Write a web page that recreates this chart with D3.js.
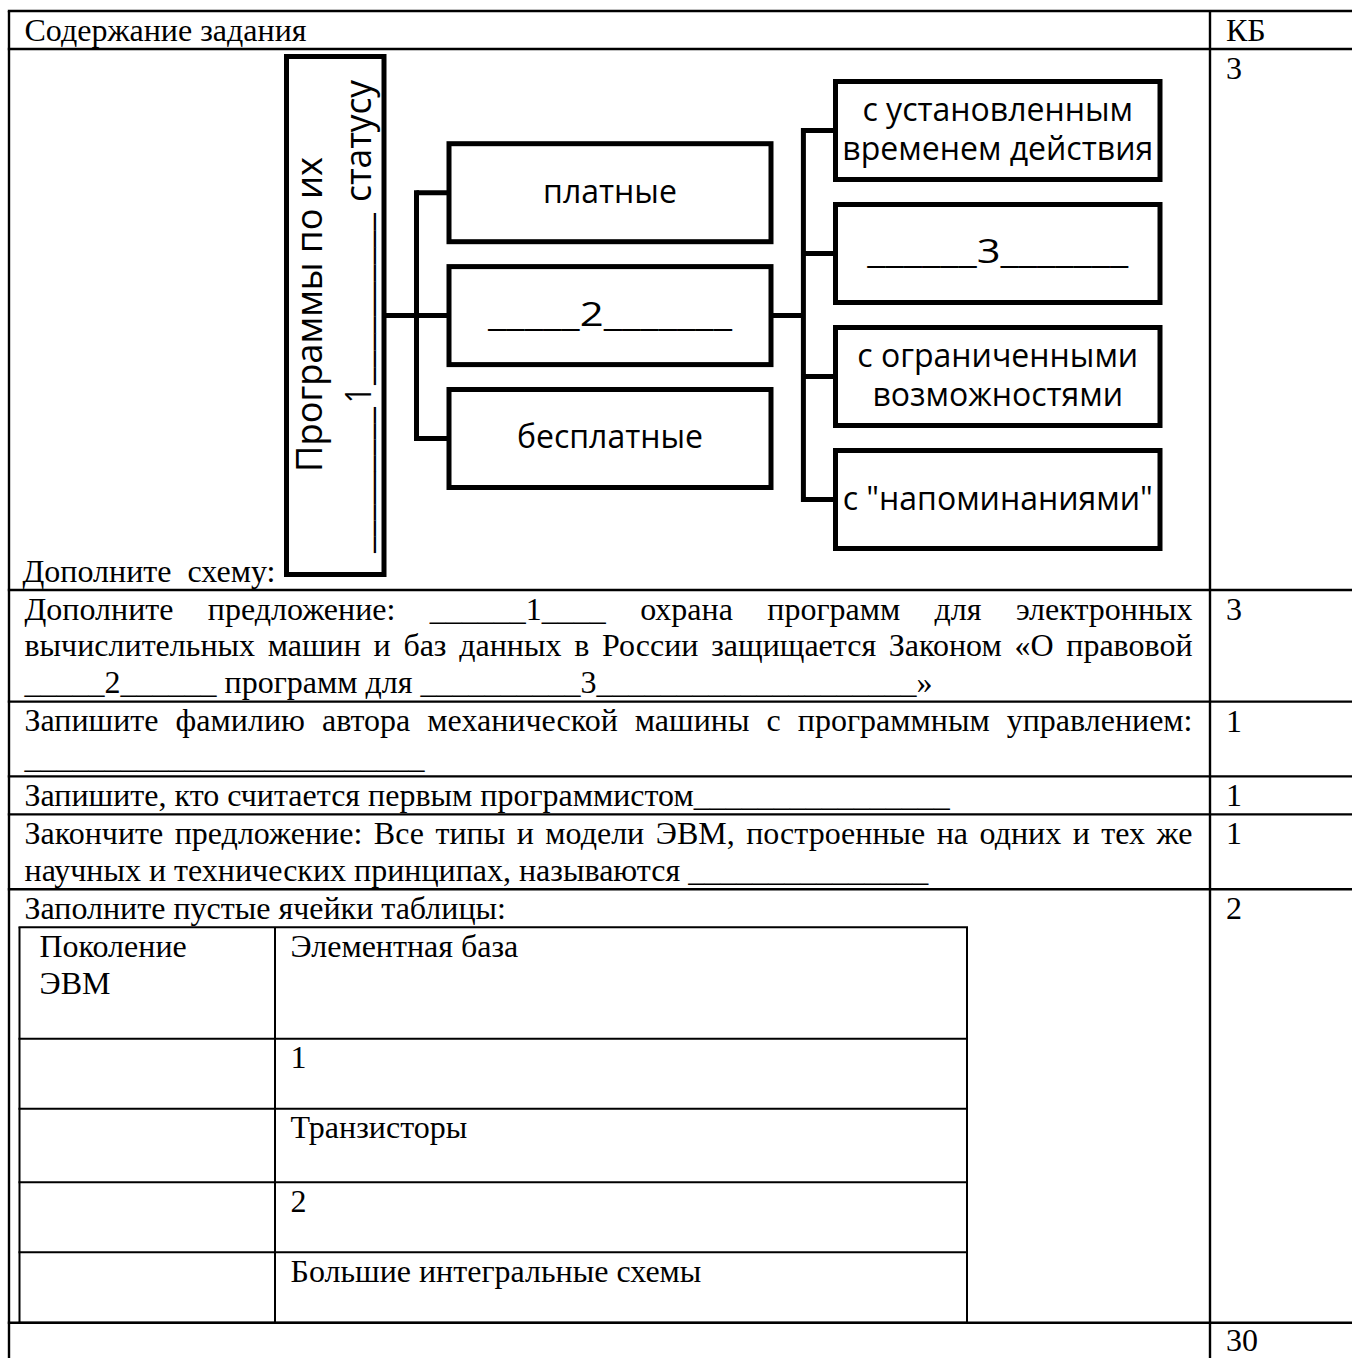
<!DOCTYPE html>
<html><head><meta charset="utf-8">
<script src="https://cdn.jsdelivr.net/npm/d3@7/dist/d3.min.js"></script>
<style>
html,body{margin:0;padding:0;background:#fff;}
svg{display:block;}
.serif{font-family:"Liberation Serif","Times New Roman",serif;font-size:32px;fill:#000;white-space:pre;}
.sans{font-family:"Open Sans","Noto Sans",sans-serif;fill:#000;white-space:pre;}
</style></head><body>
<svg id="c" width="1352" height="1358"></svg>
<script>
// ---------- data ----------
const headerLabels = ["Содержание задания", "КБ"];
const scores = ["3", "3", "1", "1", "1", "2", "30"];
const schemeCaption = "Дополните  схему:";
const rootLine1 = "Программы по их";
const rootLine2 = ["_________", "1", "__________", "статусу"];
const levelOne = [["платные"], ["_____2_______"], ["бесплатные"]];
const levelTwo = [["с установленным", "временем действия"], ["______3_______"], ["с ограниченными", "возможностями"], ["с \"напоминаниями\""]];
const task2 = [
  ["Дополните предложение: ______1____ охрана программ для электронных", true],
  ["вычислительных машин и баз данных в России защищается Законом «О правовой", true],
  ["_____2______ программ для __________3____________________»", false]
];
const task3 = [
  ["Запишите фамилию автора механической машины с программным управлением:", true],
  ["_________________________", false]
];
const task4 = [["Запишите, кто считается первым программистом________________", false]];
const task5 = [
  ["Закончите предложение: Все типы и модели ЭВМ, построенные на одних и тех же", true],
  ["научных и технических принципах, называются _______________", false]
];
const task6 = [["Заполните пустые ячейки таблицы:", false]];
const genHeader = [["Поколение", "ЭВМ"], ["Элементная база"]];
const genBase = ["1", "Транзисторы", "2", "Большие интегральные схемы"];

// ---------- layout ----------
const LH = 36.8, RB = 1.2, BASE = 29.5;
const tableLeft = 9, colDiv = 1210, tableRight = 1360, tableTop = 11;
const textLeft = 24.5, textRight = 1192.5, scoreX = 1226;
const diagramRowH = 541;
const innerLeft = 19.5, innerDiv = 275, innerRight = 967, innerPad = 15.5;
const innerRowH = [111.6, 70, 73.4, 70, 70.6];
const blankLineLen = {"_____2_______": 244, "______3_______": 261};

const svg = d3.select("#c");
const lineY = d3.scaleLinear().domain([0, 1]).range([0, LH]);

function drawLine(g, text, x0, x1, y, justify) {
  if (!justify) {
    g.append("text").attr("class", "serif").attr("x", x0).attr("y", y).text(text);
    return;
  }
  const words = text.split(" ");
  const nodes = words.map(w => g.append("text").attr("class", "serif").attr("y", y).text(w));
  const widths = nodes.map(n => n.node().getComputedTextLength());
  const gap = (x1 - x0 - d3.sum(widths)) / (words.length - 1);
  let x = x0;
  nodes.forEach((n, i) => { n.attr("x", x); x += widths[i] + gap; });
}

// rows
const textRows = [task2, task3, task4, task5];
const rowTops = [tableTop];
rowTops.push(tableTop + lineY(1) + RB);
rowTops.push(rowTops[1] + diagramRowH);
textRows.forEach(r => rowTops.push(rowTops[rowTops.length - 1] + lineY(r.length) + RB));
const row6Top = rowTops[rowTops.length - 1];
const innerTop = row6Top + lineY(1) + RB;
const innerBounds = [innerTop];
innerRowH.forEach(h => innerBounds.push(innerBounds[innerBounds.length - 1] + h));
const row7Top = innerBounds[innerBounds.length - 1];
rowTops.push(row7Top);

const gText = svg.append("g");
gText.append("text").attr("class", "serif").attr("x", textLeft).attr("y", tableTop + BASE).text(headerLabels[0]);
gText.append("text").attr("class", "serif").attr("x", scoreX).attr("y", tableTop + BASE).text(headerLabels[1]);

const scoreRowTops = rowTops.slice(1, 7).concat([row7Top]);
scores.forEach((s, i) => {
  const y = Math.min(scoreRowTops[i] + BASE + 0.5, 1351);
  gText.append("text").attr("class", "serif").attr("x", scoreX).attr("y", y).text(s);
});

gText.append("text").attr("class", "serif").attr("x", textLeft - 2).attr("y", rowTops[2] - 8).text(schemeCaption);

textRows.forEach((rows, ri) => {
  const top = rowTops[2 + ri];
  rows.forEach((ln, li) => drawLine(gText, ln[0], textLeft, textRight, top + BASE + lineY(li), ln[1]));
});
task6.forEach((ln, li) => drawLine(gText, ln[0], textLeft, textRight, row6Top + BASE + lineY(li), ln[1]));

genHeader.forEach((cell, ci) => {
  const x = (ci === 0 ? innerLeft + 4.5 : innerDiv) + innerPad;
  cell.forEach((t, li) => gText.append("text").attr("class", "serif").attr("x", x).attr("y", innerBounds[0] + BASE + lineY(li)).text(t));
});
genBase.forEach((t, i) => {
  gText.append("text").attr("class", "serif").attr("x", innerDiv + innerPad).attr("y", innerBounds[i + 1] + BASE).text(t);
});

const gLines = svg.append("g").attr("stroke", "#000").attr("stroke-width", 2.4).attr("fill", "none");
rowTops.forEach(y => gLines.append("line").attr("x1", tableLeft - 1.2).attr("x2", tableRight).attr("y1", y).attr("y2", y));
gLines.append("line").attr("x1", tableLeft).attr("x2", tableLeft).attr("y1", tableTop).attr("y2", 1360);
gLines.append("line").attr("x1", colDiv).attr("x2", colDiv).attr("y1", tableTop).attr("y2", 1360);
const gInner = svg.append("g").attr("stroke", "#000").attr("stroke-width", 2).attr("fill", "none");
innerBounds.forEach(y => gInner.append("line").attr("x1", innerLeft - 1).attr("x2", innerRight + 1).attr("y1", y).attr("y2", y));
[innerLeft, innerDiv, innerRight].forEach(x => gInner.append("line").attr("x1", x).attr("x2", x).attr("y1", innerBounds[0]).attr("y2", row7Top));

// ---------- diagram ----------
const root = {x0: 286.5, x1: 384, y0: 56.5, y1: 574.5};
const oneX = [449, 771], twoX = [835.5, 1160];
const yOne = d3.scaleBand().domain(d3.range(levelOne.length)).range([143.7, 487.5]).paddingInner(0.2026);
const yTwo = d3.scaleBand().domain(d3.range(levelTwo.length)).range([81.5, 548.5]).paddingInner(0.2033);
const conn1X = 416.5, conn2X = 803.4;
const gD = svg.append("g").attr("stroke", "#000").attr("stroke-width", 5).attr("fill", "none");
gD.append("rect").attr("x", root.x0).attr("y", root.y0).attr("width", root.x1 - root.x0).attr("height", root.y1 - root.y0);
levelOne.forEach((d, i) => gD.append("rect").attr("x", oneX[0]).attr("y", yOne(i)).attr("width", oneX[1] - oneX[0]).attr("height", yOne.bandwidth()));
levelTwo.forEach((d, i) => gD.append("rect").attr("x", twoX[0]).attr("y", yTwo(i)).attr("width", twoX[1] - twoX[0]).attr("height", yTwo.bandwidth()));
const c1 = i => yOne(i) + yOne.bandwidth() / 2;
const c2 = i => yTwo(i) + yTwo.bandwidth() / 2;
gD.append("line").attr("x1", root.x1).attr("x2", oneX[0]).attr("y1", c1(1)).attr("y2", c1(1));
gD.append("line").attr("x1", conn1X).attr("x2", conn1X).attr("y1", c1(0) - 2.5).attr("y2", c1(2) + 2.5);
[0, 2].forEach(i => gD.append("line").attr("x1", conn1X).attr("x2", oneX[0]).attr("y1", c1(i)).attr("y2", c1(i)));
gD.append("line").attr("x1", oneX[1]).attr("x2", conn2X).attr("y1", c1(1)).attr("y2", c1(1));
gD.append("line").attr("x1", conn2X).attr("x2", conn2X).attr("y1", c2(0) - 2.5).attr("y2", c2(levelTwo.length - 1) + 2.5);
levelTwo.forEach((d, i) => gD.append("line").attr("x1", conn2X).attr("x2", twoX[0]).attr("y1", c2(i)).attr("y2", c2(i)));

const gDT = svg.append("g");
const boxFS = 32, boxLH = 39.5;
function boxText(lines, cx, cy) {
  lines.forEach((t, li) => {
    const el = gDT.append("text").attr("class", "sans").attr("font-size", boxFS)
      .attr("text-anchor", "middle").attr("x", cx)
      .attr("y", cy + 10 + (li - (lines.length - 1) / 2) * boxLH).text(t);
    if (blankLineLen[t]) el.attr("textLength", blankLineLen[t]).attr("lengthAdjust", "spacingAndGlyphs");
  });
}
levelOne.forEach((d, i) => boxText(d, (oneX[0] + oneX[1]) / 2, c1(i)));
levelTwo.forEach((d, i) => boxText(d, (twoX[0] + twoX[1]) / 2, c2(i)));

const rootFS = 36;
gDT.append("text").attr("class", "sans").attr("font-size", rootFS)
  .attr("transform", `translate(322,0) rotate(-90)`)
  .attr("text-anchor", "middle").attr("x", -314.5).attr("y", 0)
  .attr("textLength", 315).attr("lengthAdjust", "spacingAndGlyphs").text(rootLine1);
const segs = [[553, 407], [403, 387], [385, 213], [202, 80]];
rootLine2.forEach((t, i) => {
  gDT.append("text").attr("class", "sans").attr("font-size", rootFS)
    .attr("transform", `translate(371,0) rotate(-90)`)
    .attr("x", -segs[i][0]).attr("y", 0)
    .attr("textLength", segs[i][0] - segs[i][1]).attr("lengthAdjust", "spacingAndGlyphs").text(t);
});
</script>
</body></html>
